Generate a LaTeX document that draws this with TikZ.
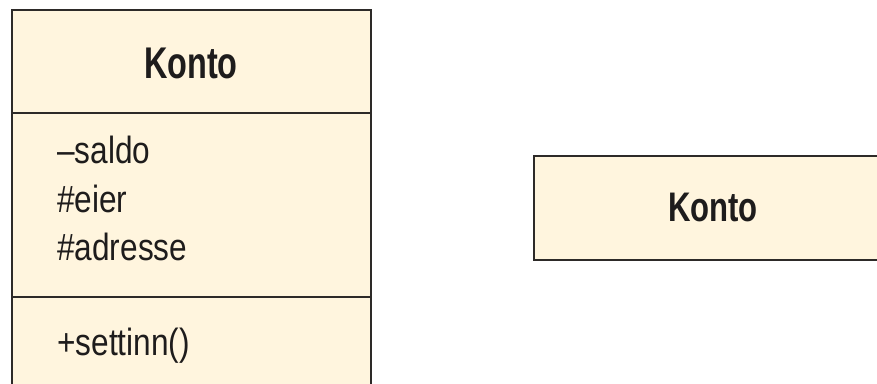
\documentclass[tikz,border=0pt]{standalone}
\usepackage{graphicx}
\usepackage{fontspec}
\setmainfont{Liberation Sans}
\definecolor{umlfill}{RGB}{255,245,222}
\definecolor{umlline}{RGB}{45,42,40}
\definecolor{umltext}{RGB}{30,28,28}
\newcommand{\ttlL}[1]{\scalebox{1}[1.37]{\fontsize{24.3}{28}\selectfont\bfseries #1}}
\newcommand{\ttlR}[1]{\scalebox{1}[1.33]{\fontsize{23.3}{27}\selectfont\bfseries #1}}
\newcommand{\mbr}[1]{\scalebox{1}[1.2]{\fontsize{23.7}{28}\selectfont #1}}
\begin{document}
\begin{tikzpicture}[x=0.75pt,y=-0.75pt,
  box/.style={draw=umlline,line width=1.6pt,fill=umlfill},
  divider/.style={draw=umlline,line width=1.6pt},
  title/.style={text=umltext,inner sep=0pt,anchor=base},
  member/.style={text=umltext,inner sep=0pt,anchor=base west}]
\useasboundingbox (0,0) rectangle (877,384);
\clip (0,0) rectangle (877,384);
% left class
\draw[box] (12,10) rectangle (371,400);
\draw[divider] (12,113) -- (371,113);
\draw[divider] (12,297) -- (371,297);
\node[title] (t1) at (191,79) {\ttlL{Konto}};
\node[member] (a1) at (57,164) {\mbr{–saldo}};
\node[member] (a2) at (57,213) {\mbr{\#eier}};
\node[member] (a3) at (57,261) {\mbr{\#adresse}};
\node[member] (m1) at (57,355) {\mbr{+settinn()}};
% right class
\draw[box] (534,156) rectangle (900,260);
\node[title] (t2) at (713,222) {\ttlR{Konto}};
\end{tikzpicture}
\end{document}
